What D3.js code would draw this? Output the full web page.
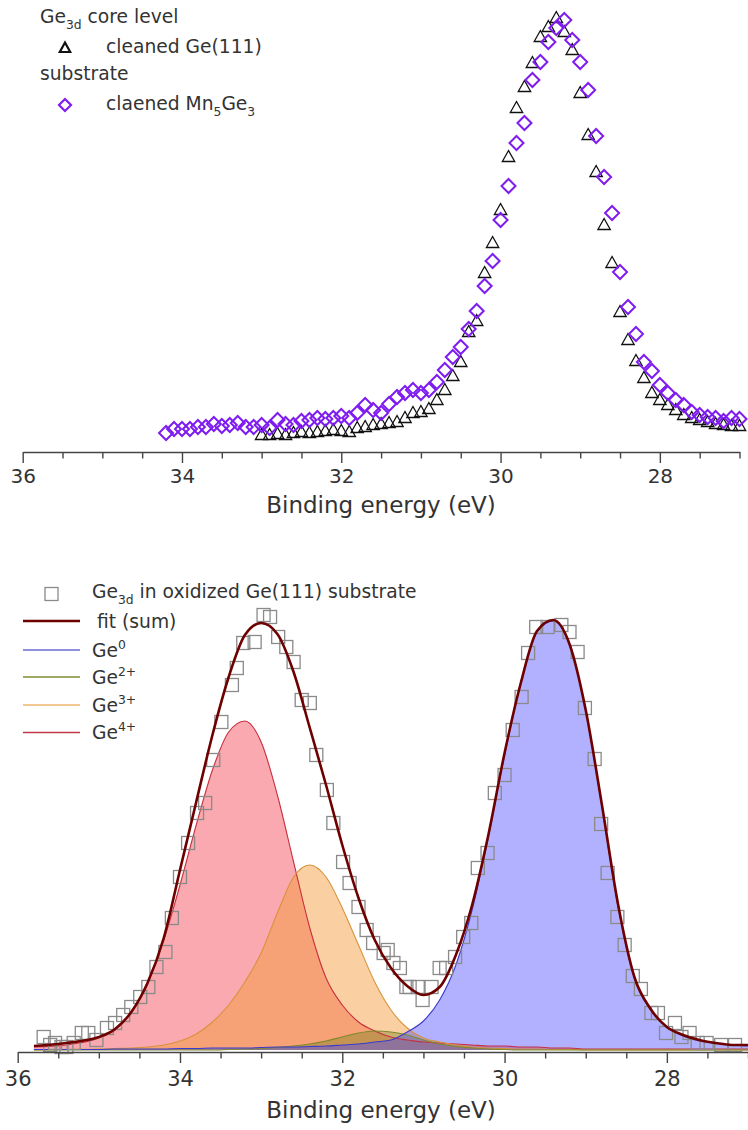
<!DOCTYPE html>
<html><head><meta charset="utf-8">
<script src="https://cdn.jsdelivr.net/npm/d3@7"></script>
<style>
body{margin:0;background:#fff}
svg{display:block}
text{font-family:"DejaVu Sans",sans-serif;fill:#333}
</style>
</head><body>
<svg id="c" width="748" height="1130"></svg>
<script>
// ---------- TOP PANEL DATA (Ge3d core level) ----------
const triE = [33.0,32.9,32.8,32.7,32.6,32.5,32.4,32.3,32.2,32.1,32.0,31.9,31.8,31.7,31.6,31.5,31.4,31.3,31.2,31.1,
  31.0,30.9,30.8,30.7,30.6,30.5,30.4,30.3,30.2,30.1,30.0,29.9,29.8,29.7,29.6,29.5,29.4,29.3,29.2,29.1,
  29.0,28.9,28.8,28.7,28.6,28.5,28.4,28.3,28.2,28.1,28.0,27.9,27.8,27.7,27.6,27.5,27.4,27.3,27.2,27.1,27.0];
const triI = [17,17,18,17,19,20,19,20,21,22,21,20,24,25,27,28,29,30,34,39,
  40,43,52,62,76,90,120,131,179,209,242,295,344,365,389,415,425,434,420,402,
  359,317,280,227,189,140,112,91,74,59,52,47,42,37,34,32,30,28,27,26,26];
const diaE = [34.2,34.1,34.0,33.9,33.8,33.7,33.6,33.5,33.4,33.3,33.2,33.1,
  33.0,32.9,32.8,32.7,32.6,32.5,32.4,32.3,32.2,32.1,32.0,31.9,31.8,31.7,31.6,31.5,31.4,31.3,31.2,31.1,
  31.0,30.9,30.8,30.7,30.6,30.5,30.4,30.3,30.2,30.1,30.0,29.9,29.8,29.7,29.6,29.5,29.4,29.3,29.2,29.1,
  29.0,28.9,28.8,28.7,28.6,28.5,28.4,28.3,28.2,28.1,28.0,27.9,27.8,27.7,27.6,27.5,27.4,27.3,27.2,27.1,27.0];
const diaI = [19,23,23,23,25,25,28,26,27,29,25,25,
  27,24,32,28,27,31,32,34,33,34,36,34,39,47,42,39,48,55,59,62,
  59,62,70,82,95,105,123,141,166,191,232,266,309,329,372,390,410,424,432,412,
  390,362,316,275,239,180,145,118,90,81,67,59,52,47,40,37,35,34,31,34,33];

// ---------- BOTTOM PANEL DATA (oxidized Ge(111)) ----------
const sqE = [35.68,35.60,35.54,35.46,35.40,35.31,35.21,35.13,35.03,
  34.90,34.80,34.70,34.60,34.49,34.39,34.29,34.18,34.10,34.00,
  33.90,33.79,33.69,33.59,33.49,33.36,33.30,33.22,33.08,
  32.97,32.89,32.79,32.69,32.60,32.50,32.40,32.32,32.19,32.11,
  31.99,31.91,31.80,31.70,31.62,31.49,31.44,31.37,31.29,31.21,
  31.17,31.07,31.01,30.90,30.80,30.72,30.61,30.51,30.41,30.33,
  30.21,30.12,30.00,29.90,29.79,29.71,29.61,29.47,29.30,29.20,
  29.10,29.01,28.89,28.81,28.73,28.61,28.52,28.42,28.32,28.19,
  28.11,28.01,27.90,27.82,27.72,27.62,27.51,27.33,27.16];
const sqI = [13,5,7,3,3,7,17,17,10,
  22,27,35,43,53,63,83,98,132,173,
  207,237,247,290,328,365,382,407,408,
  435,433,413,403,388,350,347,295,260,227,
  188,167,143,120,107,97,100,87,82,63,
  63,63,50,63,82,82,93,113,127,182,
  197,257,275,320,353,397,423,423,425,418,
  398,342,291,226,177,133,105,74,61,37,
  37,17,27,13,17,7,7,5,5];

const fitE = [35.8,35.4,35.0,
  34.8,34.6,34.4,34.2,34.0,33.8,33.6,33.4,33.2,33.0,
  32.8,32.6,32.4,32.2,32.0,31.8,31.6,31.4,31.2,31.0,
  30.8,30.6,30.4,30.2,30.0,29.8,29.6,29.4,29.2,29.0,
  28.8,28.6,28.4,28.2,28.0,27.8,27.6,27.4,27.2,27.0];
const fitSum = [4,7,13, 21,38,67,112,180,248,315,373,415,427,
  416,378,322,265,205,152,110,82,64,55, 63,95,145,215,297,367,419,430,406,340,
  245,145,73,41,23,15,10,7,5,5];
const ge0 = [0.5,0.5,0.5, 1,1,1,1,1.5,1.5,2,2,2,2.5,
  3,3,3.5,4,5,6,8,10,18,29, 50,85,140,213,295,367,418,429,405,340,
  243,143,72,40,23,14,9,7,5,4];
const ge2 = [0,0,0, 0,0,0,0,0,0,0,0.5,1,1.5,
  2.5,4,6,9,13,17,19,18,15,10, 6,3.5,2,1,0.5,0,0,0,0,0,
  0,0,0,0,0,0,0,0,0,0];
const ge3 = [0,0.5,1, 1.5,2,3,5,9,16,28,45,68,97,
  137,173,185,173,142,105,68,40,22,12, 8,5,3,2,1.5,1,1,0.5,0.5,0,
  0,0,0,0,0,0,0,0,0,0];
const ge4 = [3,5,12, 20,38,68,110,165,225,280,318,329,308,
  255,188,122,72,45,28,19,13,10,8, 7,6,5,4,4,3,3,2,2,1,
  1,1,1,1,1,1,1,1,1,1];

const majorTicks = [36,34,32,30,28];

// ---------- helpers ----------
const svg = d3.select('#c');
const LEG = 18.7;

function richText(g, x, y, parts, size) {
  const t = g.append('text').attr('x', x).attr('y', y).style('font-size', size + 'px');
  let shift = 0;
  parts.forEach(p => {
    const s = p.sub ? 0.3 * size : p.sup ? -0.42 * size : 0;
    const ts = t.append('tspan').text(p.t).attr('dy', s - shift);
    if (p.sub || p.sup) ts.style('font-size', (0.66 * size) + 'px');
    shift = s;
  });
  return t;
}

function drawAxis(x, y0, labelSize, labelOff, titleOff) {
  const g = svg.append('g').attr('transform', `translate(0,${y0})`);
  const minor = d3.range(27, 36.01, 0.5).filter(v => !majorTicks.includes(v));
  g.append('g').call(d3.axisBottom(x).tickValues(minor).tickSize(6.5).tickFormat(''))
    .call(a => a.select('.domain').remove());
  const gm = g.append('g').call(d3.axisBottom(x).tickValues(majorTicks).tickSize(11).tickSizeOuter(0).tickFormat(d3.format('d')));
  g.selectAll('line').attr('stroke', '#444').attr('stroke-width', 1.4);
  gm.select('.domain').attr('stroke', '#444').attr('stroke-width', 1.4);
  gm.selectAll('text').attr('y', labelOff).attr('dy', 0)
    .style('font-size', labelSize + 'px').style('font-family', '"DejaVu Sans",sans-serif').attr('fill', '#444');
  g.append('text').attr('x', 381).attr('y', titleOff).attr('text-anchor', 'middle')
    .style('font-size', '23px').attr('fill', '#333').text('Binding energy (eV)');
}

const triPath = 'M0,-6.5L6.2,4.5L-6.2,4.5Z';
const diaPath = 'M0,-7L7,0L0,7L-7,0Z';
const purple = '#7f1cf0';

// ---------- TOP PANEL ----------
const xT = d3.scaleLinear().domain([36, 27]).range([22.7, 739.5]);
const yT = d3.scaleLinear().domain([0, 434]).range([452, 18]);

const tri = triE.map((e, i) => ({e, v: triI[i]}));
const dia = diaE.map((e, i) => ({e, v: diaI[i]}));

svg.append('g').selectAll('path').data(tri).join('path')
  .attr('d', triPath).attr('transform', d => `translate(${xT(d.e)},${yT(d.v)})`)
  .attr('fill', 'none').attr('stroke', '#111').attr('stroke-width', 1.3);
svg.append('g').selectAll('path').data(dia).join('path')
  .attr('d', diaPath).attr('transform', d => `translate(${xT(d.e)},${yT(d.v)})`)
  .attr('fill', 'none').attr('stroke', purple).attr('stroke-width', 2);

drawAxis(xT, 452, 20, 31, 61);

// top legend
const lt = svg.append('g');
richText(lt, 40, 23, [{t:'Ge'},{t:'3d', sub:true},{t:' core level'}], LEG);
lt.append('path').attr('d', 'M0,-5.5L5.2,4L-5.2,4Z').attr('transform', 'translate(65,48)')
  .attr('fill', 'none').attr('stroke', '#111').attr('stroke-width', 2.2);
richText(lt, 106, 53, [{t:'cleaned Ge(111)'}], LEG);
richText(lt, 40, 80, [{t:'substrate'}], LEG);
lt.append('path').attr('d', 'M0,-6L6,0L0,6L-6,0Z').attr('transform', 'translate(65,105)')
  .attr('fill', 'none').attr('stroke', purple).attr('stroke-width', 2.2);
richText(lt, 106, 110, [{t:'claened Mn'},{t:'5', sub:true},{t:'Ge'},{t:'3', sub:true}], LEG);

// ---------- BOTTOM PANEL ----------
const xB = d3.scaleLinear().domain([36, 27]).range([17.7, 748]);
const yB = d3.scaleLinear().domain([0, 430]).range([1050, 620]);

const comps = [
  {name:'Ge4+', vals: ge4, fill:'rgba(240,40,55,0.40)', stroke:'#c8303e'},
  {name:'Ge3+', vals: ge3, fill:'rgba(245,150,50,0.45)', stroke:'#d8923c'},
  {name:'Ge2+', vals: ge2, fill:'rgba(120,130,30,0.40)', stroke:'#7d8a2a'},
  {name:'Ge0',  vals: ge0, fill:'rgba(70,70,255,0.42)', stroke:'#3a3ad0'}
];
const area = d3.area().x(d => xB(d.e)).y0(yB(0)).y1(d => yB(d.v)).curve(d3.curveMonotoneX);
const line = d3.line().x(d => xB(d.e)).y(d => yB(d.v)).curve(d3.curveMonotoneX);

const gc = svg.append('g');
comps.forEach(c => {
  const pts = fitE.map((e, i) => ({e, v: c.vals[i]}));
  gc.append('path').datum(pts).attr('d', area).attr('fill', c.fill).attr('stroke', 'none');
});
comps.forEach(c => {
  const pts = fitE.map((e, i) => ({e, v: c.vals[i]}));
  gc.append('path').datum(pts).attr('d', line).attr('fill', 'none').attr('stroke', c.stroke).attr('stroke-width', 1.1);
});

const sq = sqE.map((e, i) => ({e, v: sqI[i]}));
svg.append('g').selectAll('rect').data(sq).join('rect')
  .attr('x', d => xB(d.e) - 6.5).attr('y', d => yB(d.v) - 6.5).attr('width', 13).attr('height', 13)
  .attr('fill', 'none').attr('stroke', '#8a8a8a').attr('stroke-width', 1.3);

svg.append('path').datum(fitE.map((e, i) => ({e, v: fitSum[i]}))).attr('d', line)
  .attr('fill', 'none').attr('stroke', '#6e0000').attr('stroke-width', 2.6);

drawAxis(xB, 1052, 21, 34, 66);

// bottom legend
const lb = svg.append('g');
lb.append('rect').attr('x', 45).attr('y', 587.5).attr('width', 13).attr('height', 13)
  .attr('fill', 'none').attr('stroke', '#8a8a8a').attr('stroke-width', 1.3);
richText(lb, 92, 598, [{t:'Ge'},{t:'3d', sub:true},{t:' in oxidized Ge(111) substrate'}], LEG);
const legRows = [
  {y:621, color:'#6e0000', w:2.6, parts:[{t:'fit (sum)'}], tx:97},
  {y:650, color:'#6a6ad0', w:1.6, parts:[{t:'Ge'},{t:'0', sup:true}], tx:92},
  {y:677, color:'#7f8f30', w:1.6, parts:[{t:'Ge'},{t:'2+', sup:true}], tx:92},
  {y:705, color:'#f2c890', w:2.2, parts:[{t:'Ge'},{t:'3+', sup:true}], tx:92},
  {y:732.5, color:'#c03848', w:1.6, parts:[{t:'Ge'},{t:'4+', sup:true}], tx:92}
];
legRows.forEach(r => {
  lb.append('line').attr('x1', 23).attr('x2', 80).attr('y1', r.y).attr('y2', r.y)
    .attr('stroke', r.color).attr('stroke-width', r.w);
  richText(lb, r.tx, r.y + 6.5, r.parts, LEG);
});
</script>
</body></html>
